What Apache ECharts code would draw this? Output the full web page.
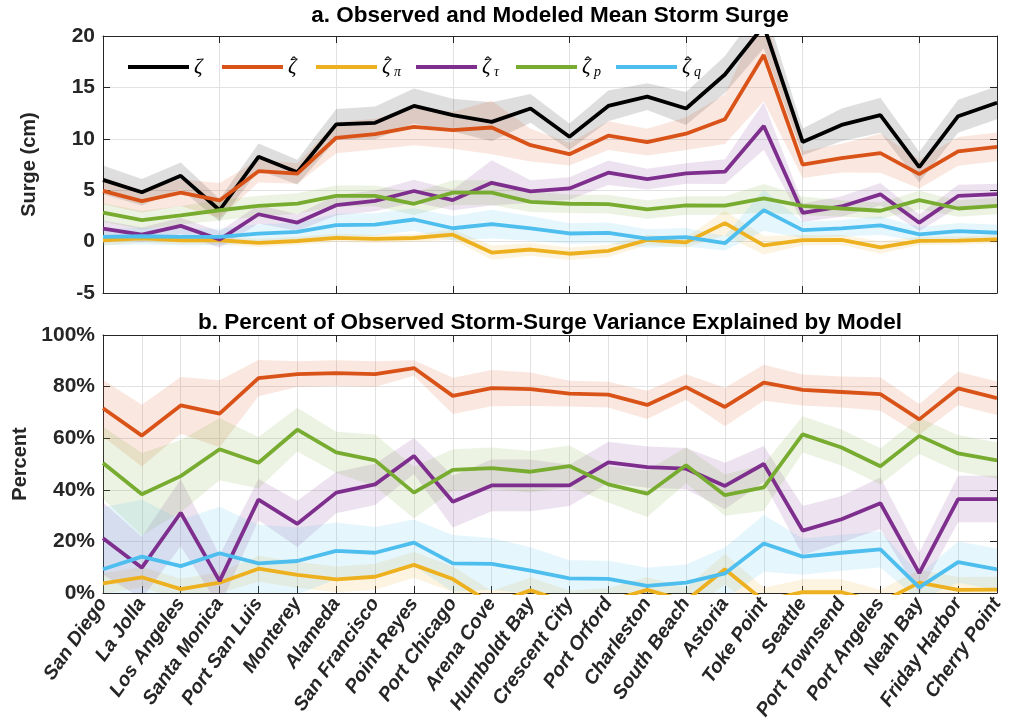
<!DOCTYPE html>
<html>
<head>
<meta charset="utf-8">
<script src="https://cdn.jsdelivr.net/npm/echarts@6/dist/echarts.min.js"></script>
<style>
  html, body { margin: 0; padding: 0; background: #ffffff; }
  #chart { width: 1010px; height: 721px; }
</style>
</head>
<body>
<div id="chart"></div>
<script>
// Tide-gauge stations, south to north
const stations = ['San Diego', 'La Jolla', 'Los Angeles', 'Santa Monica', 'Port San Luis', 'Monterey',
  'Alameda', 'San Francisco', 'Point Reyes', 'Port Chicago', 'Arena Cove', 'Humboldt Bay',
  'Crescent City', 'Port Orford', 'Charleston', 'South Beach', 'Astoria', 'Toke Point',
  'Seattle', 'Port Townsend', 'Port Angeles', 'Neah Bay', 'Friday Harbor', 'Cherry Point'];

// Panel a: mean storm surge (cm)
const surgeObs   = [6.0, 4.8, 6.4, 3.05, 8.25, 6.75, 11.4, 11.55, 13.2, 12.3, 11.65, 12.95, 10.2, 13.2, 14.1, 12.95, 16.25, 21.0, 9.7, 11.35, 12.3, 7.25, 12.2, 13.5];
const surgeModel = [4.93, 3.93, 4.77, 4.0, 6.85, 6.62, 10.1, 10.45, 11.17, 10.84, 11.1, 9.38, 8.5, 10.3, 9.67, 10.5, 11.9, 18.15, 7.48, 8.12, 8.6, 6.57, 8.77, 9.22];
const surgePi    = [0.13, 0.32, 0.13, 0.13, -0.13, 0.06, 0.36, 0.26, 0.35, 0.67, -1.07, -0.77, -1.18, -0.9, 0.16, -0.07, 1.8, -0.36, 0.15, 0.17, -0.57, 0.08, 0.1, 0.21];
const surgeTau   = [1.27, 0.68, 1.53, 0.2, 2.66, 1.85, 3.54, 3.96, 4.92, 4.04, 5.72, 4.88, 5.17, 6.7, 6.08, 6.63, 6.8, 11.24, 2.8, 3.42, 4.6, 1.84, 4.44, 4.62];
const surgeP     = [2.82, 2.08, 2.56, 3.05, 3.47, 3.7, 4.45, 4.45, 3.68, 4.77, 4.77, 3.87, 3.68, 3.64, 3.13, 3.52, 3.5, 4.2, 3.48, 3.22, 3.0, 4.04, 3.22, 3.47];
const surgeQ     = [0.45, 0.52, 0.45, 0.45, 0.78, 0.94, 1.6, 1.66, 2.15, 1.3, 1.69, 1.28, 0.79, 0.85, 0.3, 0.43, -0.16, 3.06, 1.12, 1.28, 1.57, 0.71, 1.02, 0.86];

// Panel a: half-widths of the confidence bands (cm)
const surgeObsCI   = [1.4, 1.3, 1.3, 1.1, 1.3, 1.2, 1.5, 1.6, 1.7, 1.6, 1.9, 1.4, 1.3, 1.5, 1.3, 1.6, 1.8, 2.2, 1.3, 1.6, 1.7, 1.5, 1.6, 1.6];
const surgeModelCI = [1.3, 1.1, 1.3, 1.7, 1.1, 1.0, 1.5, 1.5, 1.8, 1.8, 2.6, 1.6, 1.1, 1.4, 1.3, 1.6, 2.4, 4.5, 1.3, 1.4, 1.9, 1.4, 1.4, 1.4];
const surgePiCI    = [0.5, 0.4, 0.4, 0.4, 0.4, 0.4, 0.4, 0.4, 0.4, 0.5, 0.7, 0.6, 0.6, 0.6, 0.5, 0.5, 1.2, 0.9, 0.5, 0.5, 0.6, 0.4, 0.4, 0.4];
const surgeTauCI   = [0.8, 0.7, 0.8, 0.8, 0.9, 0.8, 1.0, 1.0, 1.1, 1.0, 2.2, 1.1, 1.1, 1.2, 1.0, 1.0, 1.2, 2.3, 0.9, 1.0, 1.1, 0.8, 1.1, 1.0];
const surgePCI     = [0.9, 0.9, 0.9, 1.0, 1.0, 1.0, 1.0, 1.0, 1.1, 1.2, 1.2, 1.0, 0.9, 0.9, 0.9, 0.9, 0.9, 1.4, 0.9, 0.8, 0.8, 0.9, 0.8, 0.8];
const surgeQCI     = [0.8, 0.8, 0.8, 0.8, 0.9, 0.9, 1.1, 1.1, 1.1, 1.2, 1.4, 1.2, 1.0, 1.0, 0.9, 0.9, 0.7, 2.0, 0.8, 0.8, 0.9, 0.7, 0.8, 0.8];

// Panel b: percent of observed variance explained
const varModel = [71.6, 61.0, 72.7, 69.5, 83.3, 84.8, 85.2, 84.8, 87.2, 76.4, 79.4, 79.0, 77.3, 76.9, 72.9, 79.8, 72.1, 81.5, 78.7, 77.9, 77.1, 67.3, 79.3, 75.5];
const varPi    = [3.7, 6.1, 1.5, 4.0, 9.4, 7.0, 5.3, 6.3, 10.9, 5.4, -4.2, 1.0, -4.0, -3.2, 1.2, -3.0, 9.2, -3.0, 0.3, 0.3, -3.7, 4.0, 1.2, 1.3];
const varTau   = [21.2, 9.8, 31.1, 4.6, 36.2, 26.8, 38.9, 42.1, 53.1, 35.4, 41.7, 41.7, 41.7, 50.6, 48.8, 48.2, 41.5, 50.0, 24.2, 28.6, 34.8, 7.7, 36.4, 36.4];
const varP     = [50.4, 38.3, 45.3, 55.7, 50.5, 63.3, 54.5, 51.4, 38.9, 47.7, 48.4, 47.0, 49.2, 42.1, 38.5, 49.5, 37.9, 40.9, 61.5, 56.4, 49.1, 60.9, 54.1, 51.4];
const varQ     = [9.2, 14.1, 10.4, 15.4, 11.5, 12.4, 16.3, 15.6, 19.5, 11.5, 11.3, 8.7, 5.7, 5.5, 2.8, 4.0, 7.6, 19.2, 14.1, 15.6, 16.9, 2.2, 12.0, 9.2];

// Panel b: half-widths of the confidence bands (percentage points)
const varModelCI = [11, 12, 11, 13, 7, 5, 5, 5, 3, 7, 7, 6.5, 5, 5, 5.5, 5, 7.5, 7, 6, 6, 6.5, 6, 6.5, 6.5];
const varPiCI    = [4, 4, 4, 4, 5, 5, 5, 5, 5, 5, 5, 5, 5, 5, 5, 5, 6, 5, 5, 5, 5, 5, 5, 5];
const varTauCI   = [14, 12, 13, 10, 8, 9, 8, 8, 7, 10, 10, 10, 8, 8, 8, 8, 9, 7, 9.5, 9, 10, 8, 9, 9];
const varPCI     = [14, 16, 14, 12, 10, 8.5, 8, 10, 10, 8, 8, 8, 8, 7, 9, 7, 8, 9, 7, 7, 7, 7, 7, 7];
const varQCI     = [24, 22, 18, 18, 15, 13, 11, 10, 9, 11, 10, 9, 7, 7, 7, 7, 10, 11, 7, 7, 7, 5, 8, 8];

// Axis ticks
const surgeTicks = { min: -5, max: 20, step: 5 };
const pctTicks = { min: 0, max: 100, step: 20 };

const colors = {
  obs: '#000000', model: '#D95319', pi: '#EDB120', tau: '#7E2F8E', p: '#77AC30', q: '#4DBEEE'
};

function rgba(hex, a) {
  const n = parseInt(hex.slice(1), 16);
  return 'rgba(' + ((n >> 16) & 255) + ',' + ((n >> 8) & 255) + ',' + (n & 255) + ',' + a + ')';
}

const axisColor = '#262626';
const gridColor = '#e2e2e2';
const sansFont = '"Liberation Sans", Arial, Helvetica, sans-serif';
const lineWidth = 3.8;

// Shaded band (stacked lower bound + width) and the mean line for each component
function panelSeries(defs, axisIdx) {
  const out = [];
  defs.forEach(function (d) {
    const lower = d.values.map(function (v, i) { return +(v - d.ci[i]).toFixed(3); });
    const width = d.ci.map(function (w) { return +(2 * w).toFixed(3); });
    const stackId = 'band-' + d.key + '-' + axisIdx;
    out.push({
      type: 'line', name: d.key + ' band', xAxisIndex: axisIdx, yAxisIndex: axisIdx,
      stack: stackId, stackStrategy: 'all', data: lower, symbol: 'none', silent: true,
      lineStyle: { opacity: 0, width: 0 }, itemStyle: { color: d.color }, z: 1
    });
    out.push({
      type: 'line', name: d.key + ' band', xAxisIndex: axisIdx, yAxisIndex: axisIdx,
      stack: stackId, stackStrategy: 'all', data: width, symbol: 'none', silent: true,
      lineStyle: { opacity: 0, width: 0 }, itemStyle: { color: d.color },
      areaStyle: { color: rgba(d.color, d.alpha || 0.14), opacity: 1 }, z: 1
    });
  });
  defs.forEach(function (d) {
    out.push({
      type: 'line', name: d.key, xAxisIndex: axisIdx, yAxisIndex: axisIdx,
      data: d.values, symbol: 'none', clip: true,
      lineStyle: { color: d.color, width: lineWidth }, itemStyle: { color: d.color }, z: 3
    });
  });
  return out;
}

const surgeDefs = [
  { key: 'obs', values: surgeObs, ci: surgeObsCI, color: colors.obs, alpha: 0.13 },
  { key: 'model', values: surgeModel, ci: surgeModelCI, color: colors.model },
  { key: 'pi', values: surgePi, ci: surgePiCI, color: colors.pi },
  { key: 'tau', values: surgeTau, ci: surgeTauCI, color: colors.tau },
  { key: 'p', values: surgeP, ci: surgePCI, color: colors.p },
  { key: 'q', values: surgeQ, ci: surgeQCI, color: colors.q }
];
const varDefs = [
  { key: 'model', values: varModel, ci: varModelCI, color: colors.model },
  { key: 'pi', values: varPi, ci: varPiCI, color: colors.pi },
  { key: 'tau', values: varTau, ci: varTauCI, color: colors.tau },
  { key: 'p', values: varP, ci: varPCI, color: colors.p },
  { key: 'q', values: varQ, ci: varQCI, color: colors.q }
];

function xAxes(g, showLabels) {
  const line = { show: true, onZero: false, lineStyle: { color: axisColor, width: 1 } };
  const tick = { show: true, inside: true, length: 7, lineStyle: { color: axisColor, width: 1 } };
  return [
    {
      type: 'category', gridIndex: g, data: stations, boundaryGap: false, position: 'bottom',
      axisLine: line, axisTick: tick,
      splitLine: { show: true, lineStyle: { color: gridColor, width: 1 } },
      axisLabel: showLabels ? {
        show: true, interval: 0, rotate: 55, margin: 7, fontSize: 19.5, fontWeight: 'bold',
        fontStyle: 'italic', color: axisColor, fontFamily: sansFont, hideOverlap: false
      } : { show: false }
    },
    {
      type: 'category', gridIndex: g, data: stations, boundaryGap: false, position: 'top',
      axisLine: line, axisTick: tick, axisLabel: { show: false }, splitLine: { show: false }
    }
  ];
}

function yAxes(g, t, name, fmt) {
  const line = { show: true, onZero: false, lineStyle: { color: axisColor, width: 1 } };
  const tick = { show: true, inside: true, length: 7, lineStyle: { color: axisColor, width: 1 } };
  return [
    {
      type: 'value', gridIndex: g, min: t.min, max: t.max, interval: t.step, position: 'left',
      name: name, nameLocation: 'middle', nameGap: 64,
      nameTextStyle: { fontSize: 20, fontWeight: 'bold', color: axisColor, fontFamily: sansFont },
      axisLine: line, axisTick: tick,
      splitLine: { show: true, lineStyle: { color: gridColor, width: 1 } },
      axisLabel: { fontSize: 21, fontWeight: 'bold', color: axisColor, margin: 8, fontFamily: sansFont, formatter: fmt }
    },
    {
      type: 'value', gridIndex: g, min: t.min, max: t.max, interval: t.step, position: 'right',
      axisLine: line, axisTick: tick, axisLabel: { show: false }, splitLine: { show: false }
    }
  ];
}

// Legend symbols: zeta, with a hat token laid over it and an optional subscript
const mathFont = '"Liberation Serif", "DejaVu Serif", serif';
const legendLabels = {
  obs: '{w|\u03B6}',
  model: '{n|\u03B6}{h|\u02C6}{t| }',
  pi: '{n|\u03B6}{h|\u02C6}{s|\u03C0}',
  tau: '{n|\u03B6}{h|\u02C6}{s|\u03C4}',
  p: '{n|\u03B6}{h|\u02C6}{s|p}',
  q: '{n|\u03B6}{h|\u02C6}{s|q}'
};

const chart = echarts.init(document.getElementById('chart'), null, { renderer: 'canvas' });
chart.setOption({
  animation: false,
  backgroundColor: '#ffffff',
  graphic: [
    {
      type: 'text', x: 550, y: 4,
      style: {
        text: 'a. Observed and Modeled Mean Storm Surge', fill: '#000000',
        font: 'bold 22.5px ' + sansFont, textAlign: 'center', textVerticalAlign: 'top'
      }
    },
    {
      type: 'text', x: 550, y: 311,
      style: {
        text: 'b. Percent of Observed Storm-Surge Variance Explained by Model', fill: '#000000',
        font: 'bold 22.5px ' + sansFont, textAlign: 'center', textVerticalAlign: 'top'
      }
    }
  ],
  legend: {
    data: ['obs', 'model', 'pi', 'tau', 'p', 'q'],
    left: 128, top: 55, padding: 0, itemGap: 6, itemWidth: 61, itemHeight: 4,
    icon: 'rect', selectedMode: false,
    formatter: function (name) { return legendLabels[name]; },
    textStyle: {
      rich: {
        w: { fontFamily: mathFont, fontStyle: 'italic', fontSize: 21, width: 22, lineHeight: 24, verticalAlign: 'middle', color: '#000' },
        n: { fontFamily: mathFont, fontStyle: 'italic', fontSize: 21, width: 3, lineHeight: 24, verticalAlign: 'middle', color: '#000' },
        h: { fontFamily: mathFont, fontSize: 17, width: 6, lineHeight: 12, verticalAlign: 'top', color: '#000' },
        t: { fontFamily: mathFont, fontSize: 14, width: 13, lineHeight: 14, verticalAlign: 'middle' },
        s: { fontFamily: mathFont, fontStyle: 'italic', fontSize: 14, width: 16, padding: [0, 0, 0, 3], lineHeight: 14, verticalAlign: 'bottom', color: '#000' }
      }
    }
  },
  grid: [
    { left: 103, right: 13, top: 36, height: 257, containLabel: false, outerBoundsMode: 'none' },
    { left: 103, right: 13, top: 335, height: 258, containLabel: false, outerBoundsMode: 'none' }
  ],
  xAxis: xAxes(0, false).concat(xAxes(1, true)),
  yAxis: yAxes(0, surgeTicks, 'Surge (cm)', '{value}').concat(yAxes(1, pctTicks, 'Percent', '{value}%')),
  series: panelSeries(surgeDefs, 0).concat(panelSeries(varDefs, 2))
});
</script>
</body>
</html>
